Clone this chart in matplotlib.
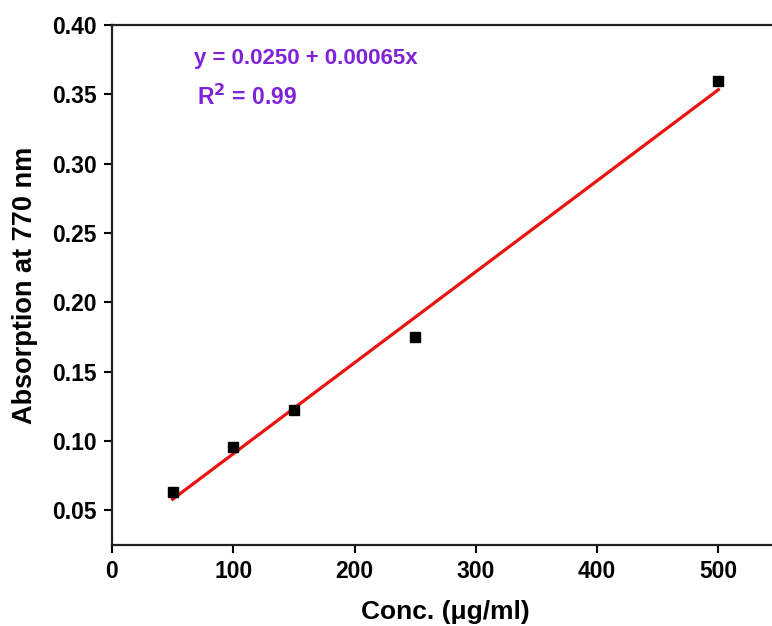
import numpy as np
import matplotlib
matplotlib.use("Agg")
import matplotlib.pyplot as plt

plt.rcParams['font.family'] = ['Liberation Sans', 'DejaVu Sans']
plt.rcParams['font.weight'] = 'bold'

conc = [50, 100, 150, 250, 500]
absorb = [0.063, 0.0955, 0.122, 0.175, 0.3595]
x_ticks = [0, 100, 200, 300, 400, 500]
y_ticks = [0.05, 0.10, 0.15, 0.20, 0.25, 0.30, 0.35, 0.40]

fig = plt.figure(figsize=(7.72, 6.26), dpi=100)
ax = fig.add_axes([112/772, 81/626, 667/772, 520/626])

slope, intercept = np.polyfit(conc, absorb, 1)
xf = np.array([min(conc), max(conc)])
ax.plot(xf, intercept + slope * xf, color='#ee1111', lw=2.3, zorder=2)
ax.plot(conc, absorb, 's', color='black', ms=7.8, zorder=3)

ax.set_xlim(0, 550)
ax.set_ylim(0.025, 0.40)
ax.set_xticks(x_ticks)
ax.set_yticks(y_ticks)
ax.set_yticklabels([f"{v:.2f}" for v in y_ticks])
for s in ax.spines.values():
    s.set_linewidth(1.6)
    s.set_color('#222222')
ax.tick_params(direction='out', length=6, width=1.5, labelsize=16.5, pad=5)
for lab in ax.get_xticklabels() + ax.get_yticklabels():
    lab.set_fontweight('bold')

ax.set_xlabel('Conc. (μg/ml)', fontsize=19, fontweight='bold', labelpad=12)
ax.set_ylabel('Absorption at 770 nm', fontsize=19.5, fontweight='bold', labelpad=10)

purple = '#7f22d8'
ax.text(68, 0.376, 'y = 0.0250 + 0.00065x', color=purple, fontsize=16, fontweight='bold', va='center')
ax.text(70, 0.348, 'R$^\\mathbf{2}$ = 0.99', color=purple, fontsize=16.5, fontweight='bold', va='center')

fig.savefig('out.png', dpi=100)
